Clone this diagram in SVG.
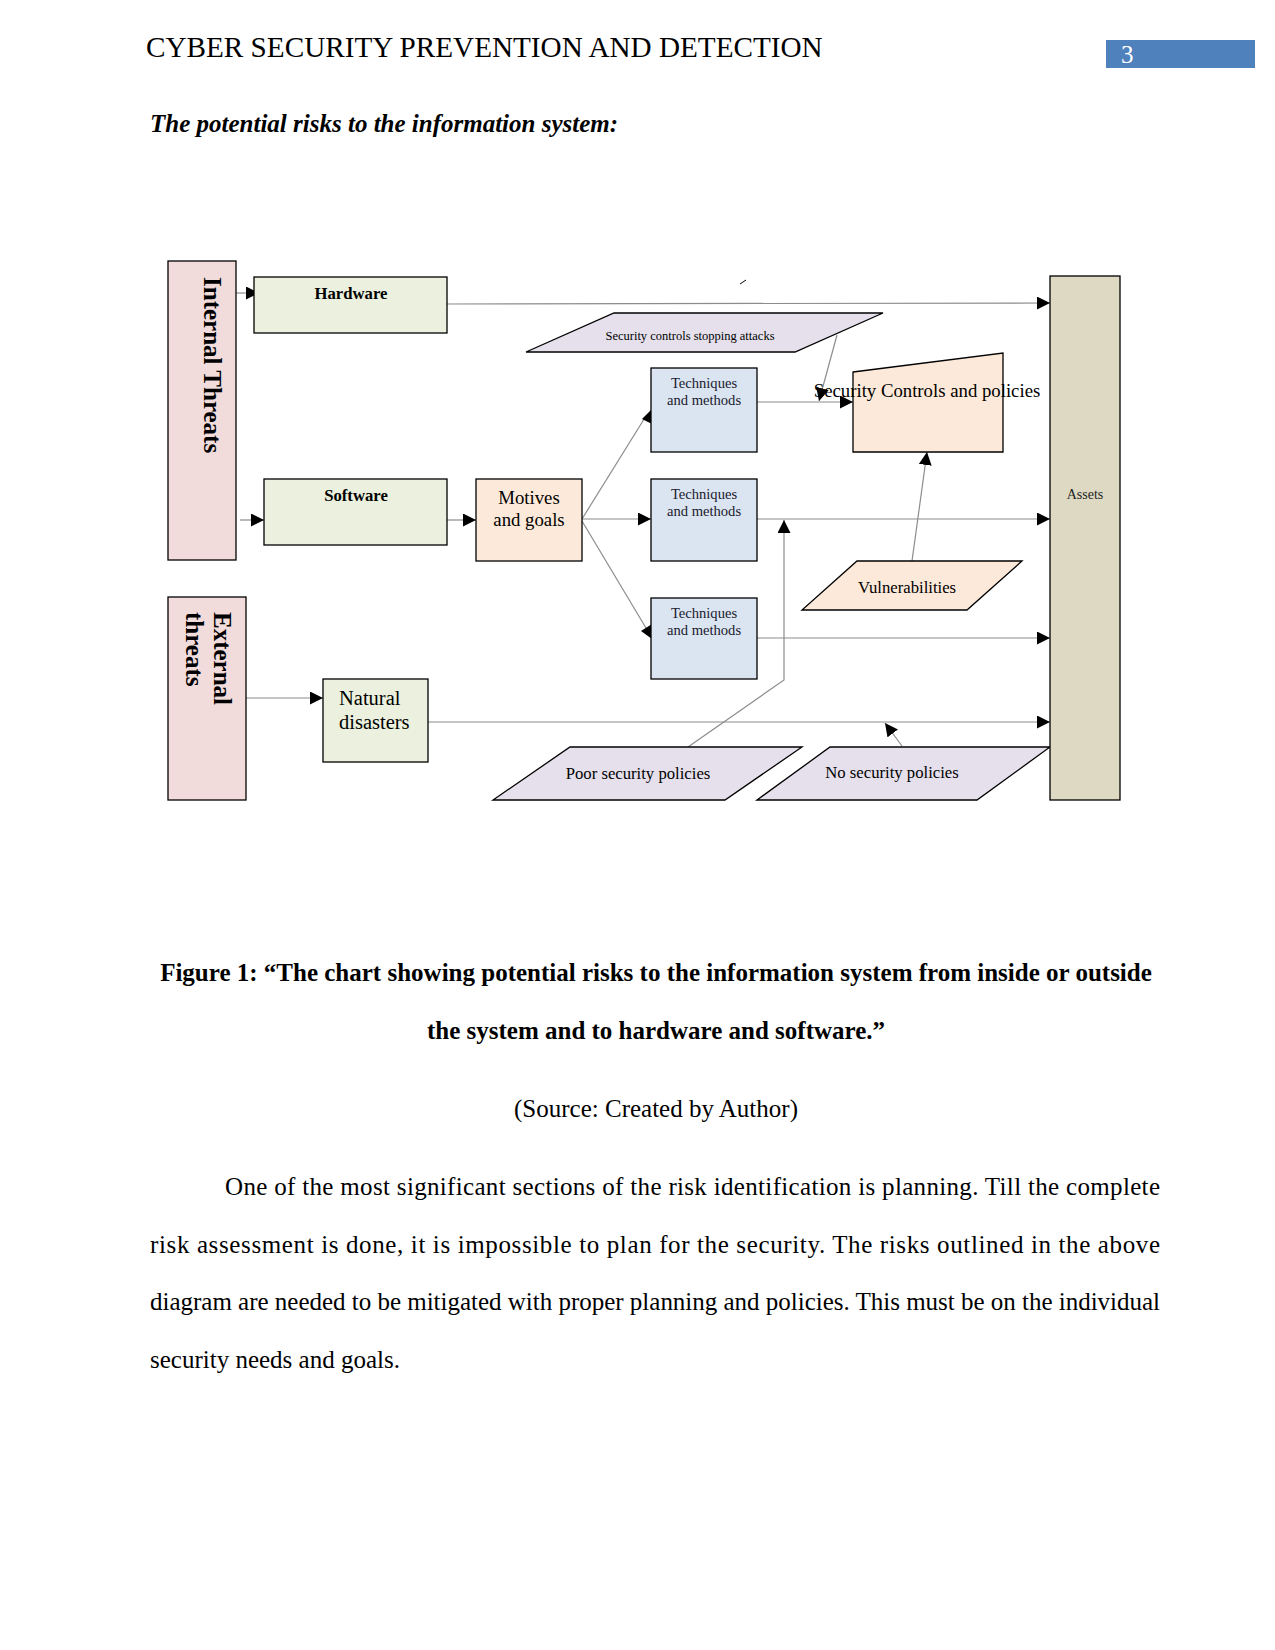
<svg xmlns="http://www.w3.org/2000/svg" width="1275" height="1650" viewBox="0 0 1275 1650">
<style>
text { font-family: "Liberation Serif", "Times New Roman", serif; fill: #000; }
.box { stroke: #000; stroke-width: 1.3; }
.pink { fill: #F2DCDB; }
.green { fill: #EBF1DE; }
.peach { fill: #FDE9D9; }
.blue { fill: #DBE5F1; }
.lav { fill: #E5E0EC; }
.tan { fill: #DDD9C3; }
.conn { stroke: #8c8c8c; stroke-width: 1.2; fill: none; }
.tech { font-size: 14.6px; text-anchor: middle; fill: #1a1a2e; }
.mid { text-anchor: middle; }
.body { font-size: 25px; }
</style>
<defs>
<marker id="ah" markerUnits="userSpaceOnUse" markerWidth="13" markerHeight="13" viewBox="0 0 13 13" refX="13" refY="6.5" orient="auto">
<path d="M0,0 L13,6.5 L0,13 z" fill="#000"/>
</marker>
</defs>
<rect width="1275" height="1650" fill="#fff"/>

<g id="header">
<text x="146" y="57" style="font-size:29.2px">CYBER SECURITY PREVENTION AND DETECTION</text>
<rect x="1106" y="40" width="149" height="28" fill="#4F81BD"/>
<text x="1121" y="63" style="font-size:25px;fill:#fff">3</text>
</g>
<text x="150" y="132" style="font-size:25px;font-weight:bold;font-style:italic">The potential risks to the information system:</text>

<g id="connectors">
<path class="conn" d="M447,304 L1050,303" marker-end="url(#ah)"/>
<path class="conn" d="M236,293 L259,293" marker-end="url(#ah)"/>
<path class="conn" d="M240,520 L264,520" marker-end="url(#ah)"/>
<path class="conn" d="M447,520 L476,520" marker-end="url(#ah)"/>
<path class="conn" d="M582,519 L651,519" marker-end="url(#ah)"/>
<path class="conn" d="M582,519 L646,416"/>
<polygon points="642,419 652,409 652,424" fill="#000"/>
<path class="conn" d="M582,521 L646,628"/>
<polygon points="641,631 652,624 652,639" fill="#000"/>
<path class="conn" d="M757,402 L853,402" marker-end="url(#ah)"/>
<path class="conn" d="M837,335 L819,401" marker-end="url(#ah)"/>
<path class="conn" d="M757,519 L1050,519" marker-end="url(#ah)"/>
<path class="conn" d="M757,638 L1050,638" marker-end="url(#ah)"/>
<path class="conn" d="M912,561 L927,452" marker-end="url(#ah)"/>
<path class="conn" d="M688,747 L784,680 L784,520" marker-end="url(#ah)"/>
<path class="conn" d="M246,698 L323,698" marker-end="url(#ah)"/>
<path class="conn" d="M428,722 L1050,722" marker-end="url(#ah)"/>
<path class="conn" d="M902,746 L885,723" marker-end="url(#ah)"/>
<path d="M740,284 L746,280" stroke="#000" stroke-width="1" fill="none"/>
</g>

<g id="internal-threats">
<rect class="box pink" x="168" y="261" width="68" height="299"/>
<text transform="translate(204,277) rotate(90)" style="font-size:25px;font-weight:bold">Internal Threats</text>
</g>
<g id="external-threats">
<rect class="box pink" x="168" y="597" width="78" height="203"/>
<text transform="translate(214,612) rotate(90)" style="font-size:25px;font-weight:bold"><tspan x="0" y="0">External</tspan><tspan x="0" y="28">threats</tspan></text>
</g>
<g id="hardware">
<rect class="box green" x="254" y="277" width="193" height="56"/>
<text class="mid" x="351" y="299" style="font-size:16.7px;font-weight:bold">Hardware</text>
</g>
<g id="software">
<rect class="box green" x="264" y="479" width="183" height="66"/>
<text class="mid" x="356" y="501" style="font-size:16.7px;font-weight:bold">Software</text>
</g>
<g id="motives">
<rect class="box peach" x="476" y="479" width="106" height="82"/>
<text class="mid" style="font-size:18.75px"><tspan x="529" y="504">Motives</tspan><tspan x="529" y="526">and goals</tspan></text>
</g>
<g id="natural-disasters">
<rect class="box green" x="323" y="679" width="105" height="83"/>
<text style="font-size:20.5px"><tspan x="339" y="705">Natural</tspan><tspan x="339" y="729">disasters</tspan></text>
</g>
<g id="security-controls-stopping">
<polygon class="box lav" points="614,313 883,313 795,352 526,352"/>
<text class="mid" x="690" y="340" style="font-size:12.5px">Security controls stopping attacks</text>
</g>
<g id="techniques-1">
<rect class="box blue" x="651" y="368" width="106" height="84"/>
<text class="tech"><tspan x="704" y="388">Techniques</tspan><tspan x="704" y="405">and methods</tspan></text>
</g>
<g id="techniques-2">
<rect class="box blue" x="651" y="479" width="106" height="82"/>
<text class="tech"><tspan x="704" y="499">Techniques</tspan><tspan x="704" y="516">and methods</tspan></text>
</g>
<g id="techniques-3">
<rect class="box blue" x="651" y="598" width="106" height="81"/>
<text class="tech"><tspan x="704" y="618">Techniques</tspan><tspan x="704" y="635">and methods</tspan></text>
</g>
<g id="security-controls-policies">
<polygon class="box peach" points="853,372 1003,353 1003,452 853,452"/>
<text class="mid" x="927" y="397" style="font-size:18.75px">Security Controls and policies</text>
</g>
<g id="vulnerabilities">
<polygon class="box peach" points="857,561 1022,561 967,610 802,610"/>
<text class="mid" x="907" y="593" style="font-size:16.7px">Vulnerabilities</text>
</g>
<g id="poor-security">
<polygon class="box lav" points="570,747 802,747 725,800 493,800"/>
<text class="mid" x="638" y="779" style="font-size:16.7px">Poor security policies</text>
</g>
<g id="no-security">
<polygon class="box lav" points="830,747 1050,747 977,800 757,800"/>
<text class="mid" x="892" y="778" style="font-size:16.7px">No security policies</text>
</g>
<g id="assets">
<rect class="box tan" x="1050" y="276" width="70" height="524"/>
<text class="mid" x="1085" y="499" style="font-size:14px;fill:#222">Assets</text>
</g>

<g id="caption">
<text class="mid" x="656" y="981" style="font-size:25px;font-weight:bold">Figure 1: “The chart showing potential risks to the information system from inside or outside</text>
<text class="mid" x="656" y="1039" style="font-size:25px;font-weight:bold">the system and to hardware and software.”</text>
<text class="mid" x="656" y="1117" style="font-size:25px">(Source: Created by Author)</text>
</g>
<g id="body">
<text class="body" x="225" y="1195" textLength="935" lengthAdjust="spacing">One of the most significant sections of the risk identification is planning. Till the complete</text>
<text class="body" x="150" y="1253" textLength="1010" lengthAdjust="spacing">risk assessment is done, it is impossible to plan for the security. The risks outlined in the above</text>
<text class="body" x="150" y="1310" textLength="1010" lengthAdjust="spacing">diagram are needed to be mitigated with proper planning and policies. This must be on the individual</text>
<text class="body" x="150" y="1368">security needs and goals.</text>
</g>
</svg>
